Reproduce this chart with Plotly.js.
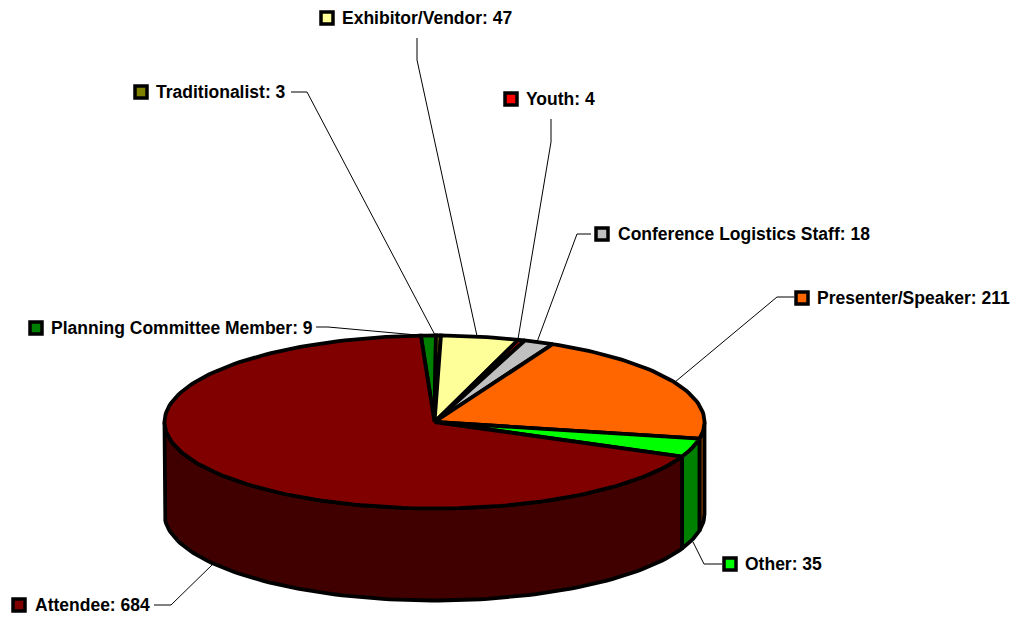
<!DOCTYPE html>
<html>
<head>
<meta charset="utf-8">
<script src="https://cdn.plot.ly/plotly-3.0.1.min.js"></script>
<style>html,body{margin:0;padding:0;background:#fff}#chart{width:1021px;height:618px}</style>
</head>
<body>
<div id="chart"></div>
<script>
// data, clockwise from the top of the pie
const categories = ["Planning Committee Member","Traditionalist","Exhibitor/Vendor","Youth","Conference Logistics Staff","Presenter/Speaker","Other","Attendee"];
const values = [9,3,47,4,18,211,35,684];
// styles
const topColors = ["#008000","#808000","#FFFF99","#FF0000","#C0C0C0","#FF6600","#00FF00","#800000"];
const wallColors = ["#004000","#404000","#808050","#800000","#606060","#A04A00","#008000","#400000"];
// layout of the drawing
const pie = {cx:434.5, cy:422, rx:270, ry:86.5, depth:92, start:-2.9};
const keyPos = [[36,328],[141,92],[327,18],[511,99],[602,234],[802,298],[730,564],[19,605]];
const textX = [50,155,341,525,617,816,744,34];
const leaders = [
  [[316,327],[328,327],[428,336]],
  [[291,92],[307,92],[435,335]],
  [[417,38],[417,60],[477,336]],
  [[551,119],[551,142],[518,339]],
  [[591,234],[577,234],[537,342]],
  [[794,297],[777,297],[675,382]],
  [[722,564],[704,564],[693,542]],
  [[154,605],[171,605],[214,563]]
];

const rad = d => d*Math.PI/180;
const px = t => pie.cx + pie.rx*Math.sin(rad(t));
const py = t => pie.cy - pie.ry*Math.cos(rad(t));
const total = values.reduce((a,b)=>a+b,0);
const arc = (a,b) => { const n=Math.max(2,Math.ceil(Math.abs(b-a)/1.5)); const o=[]; for(let i=0;i<=n;i++) o.push(a+(b-a)*i/n); return o; };

const traces = [];
let acc = pie.start;
const spans = values.map(v => { const s=[acc,acc+v/total*360]; acc=s[1]; return s; });

// leader lines under the pie
leaders.forEach(l => traces.push({type:'scatter',mode:'lines',x:l.map(p=>p[0]),y:l.map(p=>p[1]),
  line:{color:'#000',width:1},hoverinfo:'skip',showlegend:false}));

// outer walls: only the front half of the cylinder can be seen
spans.forEach((s,i) => {
  const a=Math.max(s[0],90), b=Math.min(s[1],270);
  if(b<=a) return;
  const ts=arc(a,b);
  const x=ts.map(px).concat(ts.slice().reverse().map(px)); x.push(x[0]);
  const y=ts.map(py).concat(ts.slice().reverse().map(t=>py(t)+pie.depth)); y.push(y[0]);
  traces.push({type:'scatter',mode:'lines',x,y,fill:'toself',fillcolor:wallColors[i],
    line:{color:'#000',width:3.8},hoverinfo:'skip',showlegend:false});
});

// top faces
spans.forEach((s,i) => {
  const ts=arc(s[0],s[1]);
  const x=[pie.cx].concat(ts.map(px),[pie.cx]);
  const y=[pie.cy].concat(ts.map(py),[pie.cy]);
  traces.push({type:'scatter',mode:'lines',x,y,fill:'toself',fillcolor:topColors[i],
    line:{color:'#000',width:3.8},hoverinfo:'skip',showlegend:false});
});

// legend keys
traces.push({type:'scatter',mode:'markers',x:keyPos.map(p=>p[0]),y:keyPos.map(p=>p[1]),
  marker:{symbol:'square',size:12,color:topColors,line:{color:'#000',width:3.5}},hoverinfo:'skip',showlegend:false});

const annotations = categories.map((c,i)=>({
  x:textX[i],y:keyPos[i][1],xref:'x',yref:'y',xanchor:'left',yanchor:'middle',showarrow:false,
  text:'<b>'+c+': '+values[i]+'</b>',align:'left',borderpad:0,
  font:{family:'"Liberation Sans", Arial, sans-serif',size:17.5,color:'#000'}
}));

Plotly.newPlot('chart',traces,{
  width:1021,height:618,margin:{l:0,r:0,t:0,b:0},
  paper_bgcolor:'#fff',plot_bgcolor:'#fff',showlegend:false,
  xaxis:{range:[0,1021],visible:false,fixedrange:true},
  yaxis:{range:[618,0],visible:false,fixedrange:true},
  annotations
},{displayModeBar:false,staticPlot:true});
</script>
</body>
</html>
